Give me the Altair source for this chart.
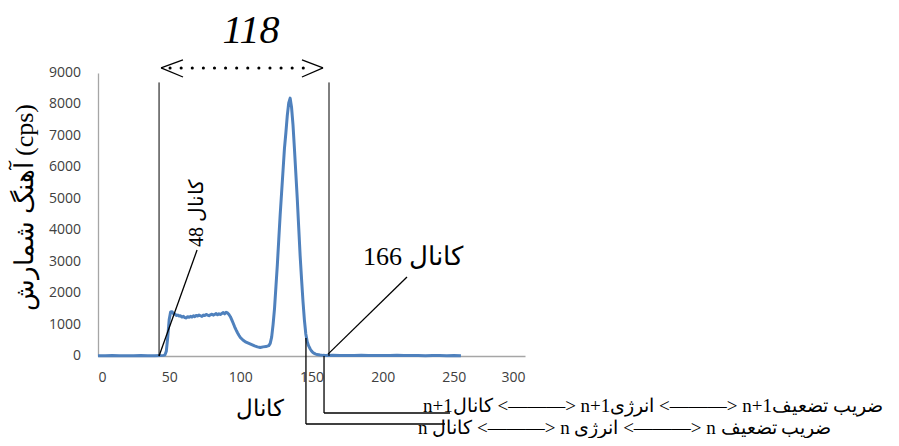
import altair as alt
import pandas as pd

# ---- spectrum (channel, counts per second) ----
channels = [0, 5, 10, 15, 20, 25, 30, 35, 40, 44, 46, 47, 48, 49, 50, 51, 52, 53, 54, 55,
            56, 57, 58, 59, 60, 61, 62, 63, 64, 65, 66, 67, 68, 69, 70, 71, 72, 73, 74, 75,
            76, 77, 78, 79, 80, 81, 82, 83, 84, 85, 86, 87, 88, 89, 90, 91, 92, 93, 94, 95,
            96, 97, 98, 99, 100, 102, 104, 106, 108, 110, 112, 114, 116, 118, 120, 121, 122, 123, 124, 125,
            126, 127, 128, 129, 130, 131, 132, 133, 134, 135, 136, 137, 138, 139, 140, 141, 142, 143, 144, 145,
            146, 147, 148, 149, 150, 151, 152, 153, 154, 156, 158, 160, 165, 170, 175, 180, 185, 190, 195, 200,
            205, 210, 215, 220, 225, 230, 235, 240, 245, 250, 255]
counts = [10, 8, 12, 6, 10, 8, 12, 7, 10, 12, 20, 30, 150, 600, 1150, 1400, 1410, 1350, 1330, 1290,
          1300, 1270, 1280, 1240, 1260, 1220, 1210, 1250, 1230, 1260, 1240, 1280, 1250, 1290, 1270, 1300, 1280, 1260, 1300, 1290,
          1320, 1300, 1280, 1310, 1330, 1300, 1320, 1350, 1310, 1340, 1320, 1350, 1380, 1340, 1390, 1370, 1320, 1250, 1150, 1040,
          930, 830, 740, 660, 590, 500, 440, 400, 360, 320, 290, 270, 290, 300, 330, 400, 600, 1000, 1500, 2200,
          2900, 3700, 4500, 5200, 5900, 6600, 7100, 7650, 8050, 8200, 7900, 7350, 6600, 5800, 5000, 4100, 3200, 2450, 1750, 1150,
          700, 450, 320, 230, 160, 110, 80, 60, 45, 30, 20, 15, 20, 12, 18, 15, 22, 14, 18, 12,
          16, 20, 14, 12, 16, 10, 14, 12, 10, 14, 8]

x_ticks = [0, 50, 100, 150, 200, 250, 300]
y_ticks = [0, 1000, 2000, 3000, 4000, 5000, 6000, 7000, 8000, 9000]
y_tick_labels = ["0", "1000", "2000", "3000", "4000", "5000", "6000", "7000", "8000", "9000"]
y_label_x = -12   # channel units, just left of the value axis

# ---- annotations (data units) ----
window_x = [42.9, 162.3]          # channel 48 and channel 166 marker lines
window_top = 8700

seg_x = [42.9, 161.6, 146.1, 146.1, 158.8, 158.8, 44.3, 44.3, 158.1, 158.1]
seg_y = [0, 60, 572, -2163, 0, -1813, 9160, 9160, 9160, 9160]
seg_x2 = [69.6, 217.1, 146.1, 243.8, 158.8, 247.3, 59.7, 59.7, 143.3, 143.3]
seg_y2 = [3371, 2512, -2163, -2163, -1813, -1813, 9414, 8873, 9414, 8873]

dots_x, dots_x2, dots_y = 50.6, 151.0, 9160

width_label = "118"
width_label_pos = (107.5, 9954)

ch48_label = "کانال 48"
ch48_pos = (69.6, 3466)
ch166_label = "کانال 166"
ch166_pos = (186.2, 2894)

row_labels = ["n+1کانال  <———>  n+1انرژی  <———>  n+1ضریب تضعیف",
              "n کانال  <———>  n انرژی  <———>  n ضریب تضعیف"]
row_x = [228.3, 224.8]
row_y = [-1781, -2480]

x_title = "کانال"
y_title = "آهنگ شمارش (cps)"

xs = alt.Scale(domain=[0, 300], nice=False, zero=False)
ys = alt.Scale(domain=[0, 9000], nice=False, zero=False)

spec = pd.DataFrame({"x": channels, "y": counts})

line = alt.Chart(spec).mark_line(color="#4f81bd", strokeWidth=3, strokeJoin="round").encode(
    x=alt.X("x:Q", scale=xs, axis=alt.Axis(
        values=x_ticks, format="d", labelOverlap=False, title=x_title, grid=False, ticks=False,
        labelPadding=14, titleX=161, titleY=52, titleBaseline="middle", titleAlign="center",
        titleFont="Liberation Serif", titleFontSize=23, titleFontWeight="normal", titleColor="#000000")),
    y=alt.Y("y:Q", scale=ys, axis=alt.Axis(
        values=y_ticks, labels=False, title=y_title, grid=False, ticks=False,
        titleX=-74, titleY=134, titleAngle=270, titleBaseline="middle", titleAlign="center",
        titleFont="Liberation Serif", titleFontSize=26, titleFontWeight="normal", titleColor="#000000")),
)

ylab = alt.Chart(pd.DataFrame({"x": [y_label_x] * len(y_ticks), "y": y_ticks, "t": y_tick_labels})).mark_text(
    font="Open Sans", fontSize=14, color="#404040", align="right", baseline="middle"
).encode(x="x:Q", y="y:Q", text="t:N")

win = pd.DataFrame({"x": window_x, "y": [0, 0], "y2": [window_top, window_top]})
vlines = alt.Chart(win).mark_rule(color="#000000", strokeWidth=1).encode(
    x="x:Q", y="y:Q", y2="y2:Q")

segs = pd.DataFrame({"x": seg_x, "y": seg_y, "x2": seg_x2, "y2": seg_y2})
seglines = alt.Chart(segs).mark_rule(color="#000000", strokeWidth=1.3).encode(
    x="x:Q", y="y:Q", x2="x2:Q", y2="y2:Q")

dots = alt.Chart(pd.DataFrame({"x": [dots_x], "x2": [dots_x2], "y": [dots_y]})).mark_rule(
    color="#000000", strokeWidth=3, strokeDash=[0.1, 11], strokeCap="round").encode(
    x="x:Q", x2="x2:Q", y="y:Q")

t118 = alt.Chart(pd.DataFrame({"x": [width_label_pos[0]], "y": [width_label_pos[1]], "t": [width_label]})).mark_text(
    font="Liberation Serif", fontStyle="italic", fontSize=40, align="center", baseline="alphabetic", color="#000000"
).encode(x="x:Q", y="y:Q", text="t:N")

t48 = alt.Chart(pd.DataFrame({"x": [ch48_pos[0]], "y": [ch48_pos[1]], "t": [ch48_label]})).mark_text(
    font="Liberation Serif", fontSize=20, angle=270, align="left", baseline="middle", color="#000000"
).encode(x="x:Q", y="y:Q", text="t:N")

t166 = alt.Chart(pd.DataFrame({"x": [ch166_pos[0]], "y": [ch166_pos[1]], "t": [ch166_label]})).mark_text(
    font="Liberation Serif", fontSize=26, align="left", baseline="alphabetic", color="#000000"
).encode(x="x:Q", y="y:Q", text="t:N")

rows = alt.Chart(pd.DataFrame({"x": row_x, "y": row_y, "t": row_labels})).mark_text(
    font="Liberation Serif", fontSize=19, align="left", baseline="alphabetic", color="#000000"
).encode(x="x:Q", y="y:Q", text="t:N")

chart = alt.layer(line, ylab, vlines, seglines, dots, t118, t48, t166, rows).properties(
    width=427, height=283,
    padding={"left": 90, "top": 65, "right": 366, "bottom": 82},
    autosize=alt.AutoSizeParams(type="none"),
    background="#ffffff",
).configure_view(stroke=None).configure_axis(
    domainColor="#a6a6a6", domainWidth=1.3, labelColor="#404040", labelFont="Open Sans",
    labelFontSize=14,
)

chart.save("out.html", embed_options={"renderer": "svg", "actions": False})
